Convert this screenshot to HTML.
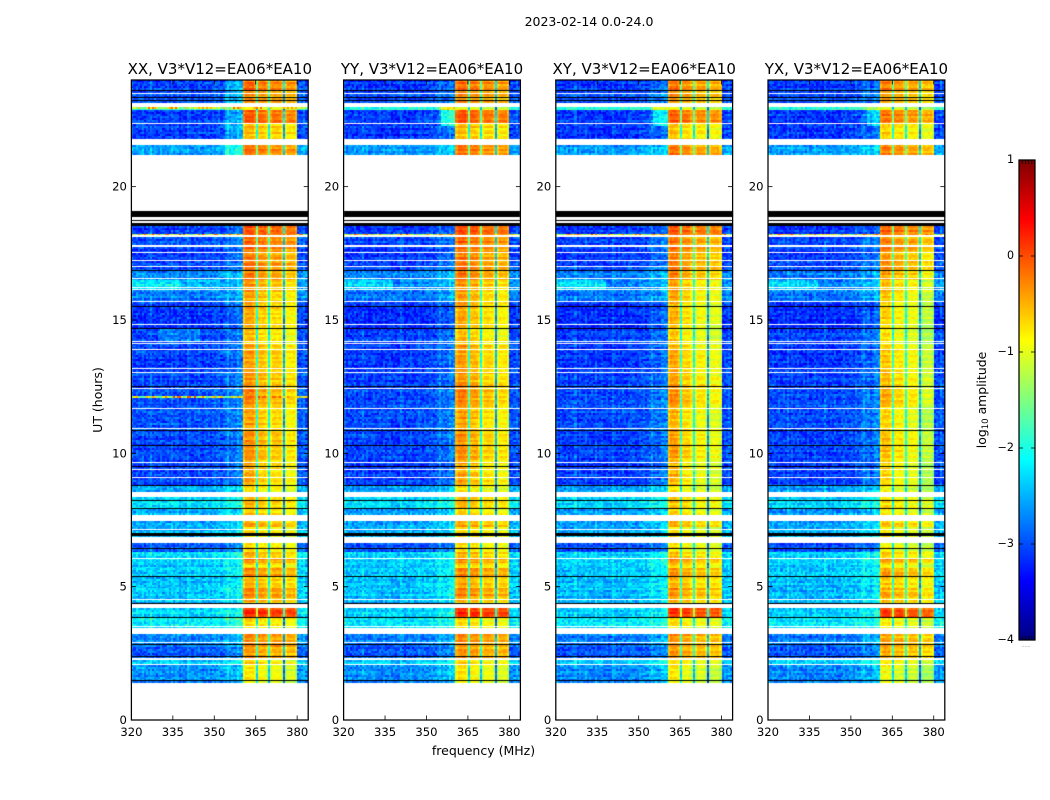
<!DOCTYPE html>
<html lang="en">
<head>
<meta charset="utf-8">
<title>2023-02-14 0.0-24.0</title>
<style>
html,body{margin:0;padding:0;background:#fff;}
#figure{position:relative;width:1050px;height:800px;overflow:hidden;background:#fff;font-family:"DejaVu Sans","Liberation Sans",sans-serif;color:#000;}
#figure canvas{position:absolute;left:0;top:0;}
#figure svg{position:absolute;left:0;top:0;}
text{font-family:"DejaVu Sans","Liberation Sans",sans-serif;fill:#000;}
</style>
</head>
<body>
<div id="figure">
<canvas id="heat" width="1050" height="800"></canvas>
<svg id="overlay" width="1050" height="800" viewBox="0 0 1050 800">
<defs><linearGradient id="jetGradient" x1="0" y1="1" x2="0" y2="0"></linearGradient></defs>
<text x="589" y="26" text-anchor="middle" font-size="12.5">2023-02-14 0.0-24.0</text>
<text x="483.5" y="755" text-anchor="middle" font-size="12.5">frequency (MHz)</text>
<text transform="translate(102,400) rotate(-90)" text-anchor="middle" font-size="12.5">UT (hours)</text>
<text transform="translate(986,400) rotate(-90)" text-anchor="middle" font-size="12.4">log<tspan font-size="8.6" dy="2">10</tspan><tspan dy="-2"> amplitude</tspan></text>
<text x="1026" y="647" text-anchor="middle" font-size="5" fill="#777" style="fill:#777">......</text>
</svg>
</div>
<script>
// ---------- chart data ----------
const panelTitles = ["XX, V3*V12=EA06*EA10", "YY, V3*V12=EA06*EA10", "XY, V3*V12=EA06*EA10", "YX, V3*V12=EA06*EA10"];
const freqTicks = [320, 335, 350, 365, 380];
const timeTicks = [0, 5, 10, 15, 20];
const colorbarTicks = [1, 0, -1, -2, -3, -4];
const colorbarLabels = ["1", "0", "\u22121", "\u22122", "\u22123", "\u22124"];

// Observation blocks: start hour, end hour, off-band log amplitude, in-band log amplitude, in-band spectral tilt
const rowTop = [24.0, 23.625, 23.14, 22.99, 22.875, 22.35, 21.56, 18.525, 18.11, 17.74, 17.51, 17.21, 16.84, 16.5, 16.125, 15.675, 15.49, 14.66, 14.06, 13.125, 12.525, 11.8, 10.875, 9.75, 8.775, 8.36, 7.91, 7.46, 7.24, 6.64, 6.3, 6.075, 5.89, 5.7, 5.36, 4.95, 4.575, 4.2, 3.825, 3.225, 2.81, 2.25, 2.06];
const rowEnd = [23.625, 23.14, 22.99, 22.875, 22.35, 21.56, 21.19, 18.11, 17.74, 17.51, 17.21, 16.84, 16.5, 16.125, 15.675, 15.49, 14.66, 14.06, 13.125, 12.525, 11.8, 10.875, 9.75, 8.775, 8.36, 7.91, 7.46, 7.24, 6.64, 6.3, 6.075, 5.89, 5.7, 5.36, 4.95, 4.575, 4.2, 3.825, 3.225, 2.81, 2.25, 2.06, 1.39];
const rowOff = [-3.1, -3.0, -2.9, -1.9, -3.1, -3.1, -2.6, -3.1, -3.0, -3.1, -3.1, -3.05, -2.75, -2.7, -2.8, -3.1, -3.15, -3.05, -3.1, -3.05, -3.0, -3.0, -3.05, -3.05, -2.6, -2.3, -2.6, -2.55, -2.55, -2.95, -2.3, -2.3, -2.4, -2.4, -2.45, -2.45, -2.5, -2.35, -2.2, -2.75, -2.95, -2.4, -2.7];
const rowOn = [-0.2, -0.35, -0.3, -0.9, -0.1, -0.6, -0.2, -0.05, -0.2, -0.2, -0.3, -0.25, -0.3, -0.45, -0.5, -0.55, -0.55, -0.65, -0.5, -0.45, -0.35, -0.55, -0.45, -0.55, -0.8, -0.6, -0.7, -0.45, -0.8, -0.75, -0.55, -0.3, -0.7, -0.35, -0.55, -0.35, -0.55, 0.15, -0.75, -0.35, -0.4, -0.75, -0.85];
const rowTilt = [0.6, 0.6, 0.6, 0.6, 0.6, 0.6, 0.6, 0.5, 0.6, 0.7, 0.8, 0.8, 0.9, 1, 1, 1, 1, 1, 1, 1, 1.1, 1.1, 1.1, 1.1, 0.8, 0.7, 0.7, 0.6, 0.6, 0.6, 0.6, 0.6, 0.6, 0.6, 0.6, 0.6, 0.6, 0.4, 0.6, 0.5, 0.5, 0.7, 0.7];

// Flagged time ranges [from hour, to hour]
const whiteGaps = [[23.51,23.475],[23.14,22.99],[22.39,22.35],[21.79,21.56],[21.19,19.09],[18.825,18.75],[18.71,18.64],[18.19,18.13],[17.81,17.74],[17.55,17.51],[17.25,17.21],[17.03,16.99],[16.58,16.54],[16.24,16.2],[16.16,16.125],[15.71,15.675],[14.85,14.81],[14.21,14.175],[14.14,14.1],[13.91,13.875],[13.2,13.16],[13.05,13.01],[12.45,12.41],[11.7,11.66],[10.95,10.91],[9.675,9.64],[9.41,9.375],[9.11,9.075],[8.55,8.36],[7.69,7.46],[7.16,7.125],[6.86,6.64],[6.075,6.04],[4.54,4.5],[4.35,4.2],[3.525,3.49],[3.45,3.41],[3.41,3.225],[2.925,2.89],[2.325,2.25],[2.1,2.06],[1.39,0]];
const blackLines = [[23.625,23.59],[23.36,23.325],[23.25,23.21],[19.09,18.86],[18.75,18.71],[18.64,18.525],[16.875,16.84],[15.525,15.49],[14.7,14.66],[12.525,12.49],[10.875,10.84],[10.31,10.275],[9.525,9.49],[8.81,8.775],[8.25,8.21],[7.95,7.91],[7.0,6.91],[6.45,6.41],[5.4,5.36],[4.39,4.35],[3.86,3.825],[2.85,2.81],[2.4,2.36],[1.49,1.45]];
// Thin interference rows: panel, hour
const hotLines = [[0,12.11],[0,18.17],[1,18.17],[2,18.17],[3,18.17],[0,22.95]];

// Frequency structure (MHz) and level offsets for each range
const offBandEdges = [320, 321, 340, 350, 354, 358, 360.5];
const offBandGain = [0.12, 0, 0, 0.08, 0.2, 0.32];
const upperBandGain = 0.05;
const subBandEdges = [360.5, 365, 370, 375, 380];
const subBandGaps = [365.1, 370.1, 375.1];
const gapDrop = [1.4, 1.5, 2.1];
const subBandEdgeDrop = 0.18;
const panelOffGain = [0, -0.04, -0.04, -0.04];
const panelOnGain = [
  [0.1, -0.1, -0.15, -0.3],
  [0.12, -0.05, -0.2, -0.3],
  [0.05, -0.2, -0.35, -0.45],
  [-0.1, -0.3, -0.4, -0.65]
];
// Localised brightenings: panel, f1, f2, t-top, t-bottom, delta
const blobs = [
  [0,320,338,16.5,16.125,0.5],[0,338,352,16.5,16.125,0.2],
  [1,320,338,16.5,16.125,0.4],[2,320,338,16.5,16.125,0.5],[3,320,338,16.5,16.125,0.4],
  [0,354,360.5,24,21.2,0.3],[1,355,360.5,23.14,22.3,0.9],[2,355,360.5,23,22.3,0.7],[3,356,360.5,23,22.3,0.5],
  [0,330,345,14.7,14.2,0.25]
];
// Short hand-picked grain sequences (visual texture: individual cells are not readable)
const grain = [0.21,-0.17,0.05,-0.32,0.34,-0.08,0.12,-0.26,0.29,0.02,-0.14,0.4,-0.36,0.09,-0.03,0.24,-0.21,0.16,-0.29,0.07,0.31,-0.11,-0.38,0.19,0.04,-0.23,0.27,-0.06,0.13,-0.33,0.36,-0.01,0.1,-0.19,0.23,-0.28,0.06,0.18,-0.12,0.33,-0.24];
const rowStreak = [0.05,-0.1,0.14,0.02,-0.07,0.18,-0.13,0.0,0.09,-0.16,0.06,0.12,-0.04,-0.11,0.16,0.03,-0.08,0.1,-0.14,0.07,0.01,-0.05,0.13];
const colStreak = [0.02,-0.04,0.06,0,-0.02,0.1,-0.05,0.03,0,0.2,-0.03,0.05,-0.06,0.01,0.08,-0.02,0,0.04,-0.05,0.14,-0.03,0.01,0.07,-0.06,0.03,0,-0.04,0.17,0.02,-0.05,0.05,-0.02,0.09,0,-0.06,0.04,0.12];

// ---------- scales ----------
const panelLeft = [131.4, 343.6, 555.8, 768];
const panelWidth = 176.8;
const plotTop = 80, plotBottom = 720;
const fMin = 320, fMax = 384;
const tMin = 0, tMax = 24;
const vMin = -4, vMax = 1;
const cbLeft = 1019, cbWidth = 16, cbTop = 160, cbBottom = 640;
function xScale(p, f){ return panelLeft[p] + (f - fMin) / (fMax - fMin) * panelWidth; }
function yScale(t){ return plotBottom - (t - tMin) / (tMax - tMin) * (plotBottom - plotTop); }
function cbScale(v){ return cbBottom - (v - vMin) / (vMax - vMin) * (cbBottom - cbTop); }
function jet(x){
  const c = function(k){ return Math.round(255 * Math.max(0, Math.min(1, 1.5 - Math.abs(4 * x - k)))); };
  return "rgb(" + c(3) + "," + c(2) + "," + c(1) + ")";
}
function colorOf(v){ return jet((Math.max(vMin, Math.min(vMax, v)) - vMin) / (vMax - vMin)); }

function offGain(f){
  if (f >= 380) return upperBandGain;
  for (let i = 0; i < offBandGain.length; i++) {
    if (f >= offBandEdges[i] && f < offBandEdges[i + 1]) return offBandGain[i];
  }
  return 0;
}
function subBandIndex(f){
  for (let i = 0; i < subBandEdges.length - 1; i++) {
    if (f >= subBandEdges[i] && f < subBandEdges[i + 1]) return i;
  }
  return -1;
}

// ---------- heatmaps ----------
const ctx = document.getElementById("heat").getContext("2d");
const cellF = 0.75, cellT = 0.075;
const nCols = Math.ceil((fMax - fMin) / cellF);
for (let p = 0; p < 4; p++) {
  let rIdx = 0;
  for (let b = 0; b < rowTop.length; b++) {
    for (let t = rowTop[b]; t > rowEnd[b] + 1e-6; t -= cellT) {
      const tLow = Math.max(t - cellT, rowEnd[b]);
      const y0 = Math.round(yScale(t)), y1 = Math.round(yScale(tLow));
      rIdx++;
      if (y1 <= y0) continue;
      const streak = rowStreak[(rIdx + p * 3) % rowStreak.length];
      const isHot = hotLines.some(function(h){ return h[0] === p && h[1] <= t && h[1] > tLow; });
      for (let c = 0; c < nCols; c++) {
        const f0 = fMin + c * cellF, f1 = Math.min(f0 + cellF, fMax), fc = (f0 + f1) / 2;
        const g = grain[(c * c * 3 + rIdx * rIdx * 5 + c * rIdx * 7 + c * 13 + rIdx * 19 + p * 11) % grain.length];
        const s = subBandIndex(fc);
        let v;
        if (s >= 0) {
          const gapAt = subBandGaps.findIndex(function(gf){ return gf >= f0 && gf < f1; });
          v = rowOn[b] + panelOnGain[p][s] * rowTilt[b] + g * 0.3 + streak * 0.9;
          if (fc - subBandEdges[s] < 1 || subBandEdges[s + 1] - fc < 1) v -= subBandEdgeDrop;
          if (gapAt >= 0) v = rowOn[b] - gapDrop[gapAt] + g * 0.6;
        } else {
          v = rowOff[b] + panelOffGain[p] + offGain(fc) + g * 0.75 + streak * 0.7 + colStreak[c % colStreak.length];
          blobs.forEach(function(bl){
            if (bl[0] === p && fc >= bl[1] && fc < bl[2] && t <= bl[3] && t > bl[4]) v += bl[5];
          });
        }
        if (isHot) v = Math.max(v, -0.9 + g * 2.4);
        const x0 = Math.round(xScale(p, f0)), x1 = Math.round(xScale(p, f1));
        ctx.fillStyle = colorOf(v);
        ctx.fillRect(x0, y0, x1 - x0, y1 - y0);
      }
    }
  }
  const px0 = Math.round(xScale(p, fMin)), px1 = Math.round(xScale(p, fMax));
  ctx.fillStyle = "#fff";
  whiteGaps.forEach(function(g){
    const a = Math.round(yScale(g[0])), h = Math.max(1, Math.round(yScale(g[1])) - a);
    ctx.fillRect(px0, a, px1 - px0, h);
  });
  ctx.fillStyle = "#000";
  blackLines.forEach(function(g){
    const a = Math.round(yScale(g[0])), h = Math.max(1, Math.round(yScale(g[1])) - a);
    ctx.fillRect(px0, a, px1 - px0, h);
  });
}

// ---------- axes ----------
const svg = document.getElementById("overlay");
const NS = "http://www.w3.org/2000/svg";
function make(tag, attrs, parent){
  const el = document.createElementNS(NS, tag);
  for (const k in attrs) el.setAttribute(k, attrs[k]);
  (parent || svg).appendChild(el);
  return el;
}
const tickLen = 4.5;
for (let p = 0; p < 4; p++) {
  const panel = make("g", {});
  
  

  const frame = make("rect", {x: xScale(p, fMin), y: plotTop, width: panelWidth, height: plotBottom - plotTop, fill: "none", stroke: "#000", "stroke-width": 1.25}, panel);
  
  

  const title = make("text", {x: xScale(p, fMin) + panelWidth / 2, y: 74, "text-anchor": "middle", "font-size": 15}, panel);
  title.textContent = panelTitles[p];
  
  

  freqTicks.forEach(function(f){
    const x = xScale(p, f);
    const tickB = make("line", {x1: x, x2: x, y1: plotBottom, y2: plotBottom - tickLen, stroke: "#000", "stroke-width": 0.8}, panel);
    
    
    const tickT = make("line", {x1: x, x2: x, y1: plotTop, y2: plotTop + tickLen, stroke: "#000", "stroke-width": 0.8}, panel);
    
    
    const lab = make("text", {x: x, y: 736, "text-anchor": "middle", "font-size": 11.6}, panel);
    lab.textContent = String(f);
    
    
  });
  timeTicks.forEach(function(t){
    const y = yScale(t);
    const x0 = xScale(p, fMin), x1 = xScale(p, fMax);
    const tickL = make("line", {x1: x0, x2: x0 + tickLen, y1: y, y2: y, stroke: "#000", "stroke-width": 0.8}, panel);
    
    
    const tickR = make("line", {x1: x1, x2: x1 - tickLen, y1: y, y2: y, stroke: "#000", "stroke-width": 0.8}, panel);
    
    
    const lab = make("text", {x: x0 - 4.5, y: y + 4, "text-anchor": "end", "font-size": 11.6}, panel);
    lab.textContent = String(t);
    
    
  });
}

// ---------- colorbar ----------
const grad = document.getElementById("jetGradient");
for (let i = 0; i <= 64; i++) {
  const stop = make("stop", {offset: (i / 64), "stop-color": jet(i / 64)}, grad);
  
  
}
const cb = make("g", {});


const cbRect = make("rect", {x: cbLeft, y: cbTop, width: cbWidth, height: cbBottom - cbTop, fill: "url(#jetGradient)", stroke: "#000", "stroke-width": 1.25}, cb);


colorbarTicks.forEach(function(v, i){
  const y = cbScale(v);
  const left = make("line", {x1: cbLeft, x2: cbLeft + 4, y1: y, y2: y, stroke: "#000", "stroke-width": 0.8}, cb);
  
  
  const right = make("line", {x1: cbLeft + cbWidth, x2: cbLeft + cbWidth - 4, y1: y, y2: y, stroke: "#000", "stroke-width": 0.8}, cb);
  
  
  const lab = make("text", {x: cbLeft - 5, y: y + 3, "text-anchor": "end", "font-size": 11.1}, cb);
  lab.textContent = colorbarLabels[i];
  
  
});
for (let i = 1; i <= 4; i++) {
  const x = cbLeft + i * cbWidth / 5;
  const top = make("line", {x1: x, x2: x, y1: cbTop, y2: cbTop + 4, stroke: "#000", "stroke-width": 0.8}, cb);
  
  
  const bottom = make("line", {x1: x, x2: x, y1: cbBottom, y2: cbBottom - 4, stroke: "#000", "stroke-width": 0.8}, cb);
  
  
}
</script>
</body>
</html>
